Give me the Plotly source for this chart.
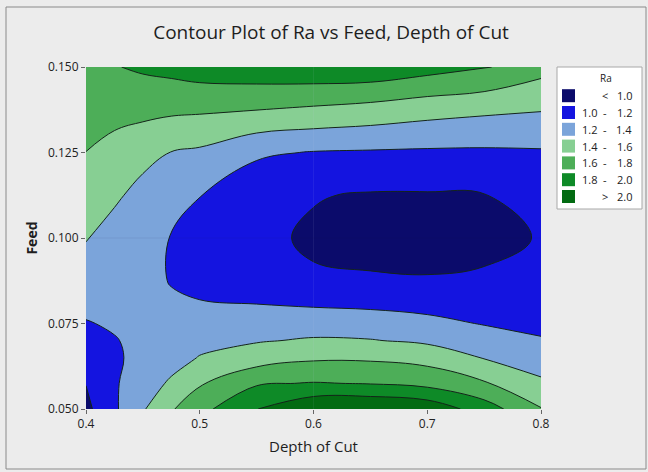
import plotly.graph_objects as go

# Grid of the fitted surface: Depth of Cut (x) by Feed (y)
depth = [0.40, 0.425, 0.45, 0.475, 0.50, 0.55, 0.60, 0.65, 0.70, 0.75, 0.80]
feed = [0.050, 0.0575, 0.065, 0.070, 0.075, 0.0875, 0.100, 0.1125, 0.125, 0.1375, 0.150]

# Ra values, one row per feed level (bottom to top)
ra = [
    [0.95, 1.17, 1.38, 1.58, 1.74, 1.995, 2.18, 2.20, 2.14, 1.90, 1.61],
    [1.005, 1.18, 1.30, 1.43, 1.58, 1.78, 1.81, 1.79, 1.74, 1.62, 1.43],
    [1.08, 1.18, 1.24, 1.32, 1.41, 1.50, 1.57, 1.57, 1.53, 1.39, 1.31],
    [1.13, 1.19, 1.245, 1.275, 1.34, 1.385, 1.42, 1.41, 1.365, 1.29, 1.22],
    [1.19, 1.22, 1.25, 1.26, 1.30, 1.30, 1.31, 1.29, 1.25, 1.19, 1.14],
    [1.30, 1.28, 1.26, 1.19, 1.12, 1.08, 1.02, 1.015, 1.01, 1.025, 1.07],
    [1.41, 1.30, 1.29, 1.19, 1.12, 1.04, 0.975, 0.95, 0.94, 0.95, 1.01],
    [1.505, 1.44, 1.32, 1.286, 1.205, 1.07, 1.01, 0.985, 0.985, 0.995, 1.06],
    [1.598, 1.537, 1.478, 1.395, 1.368, 1.23, 1.19, 1.18, 1.172, 1.17, 1.18],
    [1.69, 1.66, 1.648, 1.636, 1.627, 1.603, 1.568, 1.528, 1.475, 1.438, 1.41],
    [1.76, 1.79, 1.83, 1.86, 1.90, 1.93, 1.95, 1.95, 1.88, 1.82, 1.67],
]

# Contour levels and band appearance
level_start = 1.0
level_end = 2.0
level_step = 0.2
band_labels = ["< 1.0", "1.0 - 1.2", "1.2 - 1.4", "1.4 - 1.6",
               "1.6 - 1.8", "1.8 - 2.0", "> 2.0"]
band_colors = ["#0b0b6b", "#1414e0", "#7ba4da", "#87cf93",
               "#4dae58", "#0e8a27", "#036b12"]

x_ticks = [0.4, 0.5, 0.6, 0.7, 0.8]
x_ticktext = ["0.4", "0.5", "0.6", "0.7", "0.8"]
y_ticks = [0.050, 0.075, 0.100, 0.125, 0.150]
y_ticktext = ["0.050", "0.075", "0.100", "0.125", "0.150"]

FONT = "Open Sans"
W, H = 648, 472
L, R, T, B = 86, 541, 67, 409   # plot area edges in pixels


def px2x(px):
    return (px - L) / (R - L)


def px2y(py):
    return (B - py) / (B - T)


fig = go.Figure()

n = len(band_colors)
fig.add_trace(go.Contour(
    x=depth, y=feed, z=ra,
    contours=dict(start=level_start, end=level_end, size=level_step,
                  coloring="fill", showlines=True),
    line=dict(color="#14241a", width=1, smoothing=1.1),
    colorscale=[[i / (n - 1), c] for i, c in enumerate(band_colors)],
    showscale=False, hoverinfo="skip", showlegend=False,
))

shapes = [
    # outer frame
    dict(type="rect", xref="paper", yref="paper",
         x0=px2x(6), x1=px2x(646), y0=px2y(469), y1=px2y(7),
         line=dict(color="#8a8a8a", width=1), layer="below"),
    # faint reference lines through the plot
    dict(type="line", xref="x", yref="paper", x0=0.6, x1=0.6, y0=0, y1=1,
         line=dict(color="rgba(210,210,240,0.08)", width=1)),
    dict(type="line", xref="paper", yref="y", x0=0, x1=1, y0=0.1, y1=0.1,
         line=dict(color="rgba(40,40,90,0.08)", width=1)),
    # legend box
    dict(type="rect", xref="paper", yref="paper",
         x0=px2x(557), x1=px2x(642), y0=px2y(209), y1=px2y(67),
         fillcolor="#ffffff", line=dict(color="#a8a8a8", width=1)),
]
annotations = [
    dict(text="Ra", xref="paper", yref="paper", x=px2x(606), y=px2y(78),
         xanchor="center", yanchor="middle", showarrow=False,
         font=dict(size=10, family=FONT, color="#222222")),
]

# Legend rows: swatch, lower bound / symbol, upper bound
row0, row_gap = 95.7, 16.8
for i, (lab, col) in enumerate(zip(band_labels, band_colors)):
    cy = row0 + i * row_gap
    shapes.append(dict(type="rect", xref="paper", yref="paper",
                       x0=px2x(562), x1=px2x(575),
                       y0=px2y(cy + 6.5), y1=px2y(cy - 6.5),
                       fillcolor=col, line=dict(width=0)))
    parts = lab.split(" ")
    tf = dict(size=11, family=FONT, color="#222222")
    if len(parts) == 3:
        annotations.append(dict(text=parts[0], xref="paper", yref="paper",
                                x=px2x(580), y=px2y(cy), xanchor="left",
                                yanchor="middle", showarrow=False, font=tf))
        sym, hi = parts[1], parts[2]
    else:
        sym, hi = parts[0], parts[1]
    annotations.append(dict(text=sym, xref="paper", yref="paper",
                            x=px2x(605), y=px2y(cy), xanchor="center",
                            yanchor="middle", showarrow=False, font=tf))
    annotations.append(dict(text=hi, xref="paper", yref="paper",
                            x=px2x(634), y=px2y(cy), xanchor="right",
                            yanchor="middle", showarrow=False, font=tf))

fig.update_layout(
    width=W, height=H, autosize=False,
    margin=dict(l=L, r=W - R, t=T, b=H - B),
    paper_bgcolor="#ececec", plot_bgcolor="#ececec",
    font=dict(family=FONT, color="#222222"),
    showlegend=False,
    title=dict(text="Contour Plot of Ra vs Feed, Depth of Cut",
               x=331 / W, xref="container", xanchor="center",
               y=1 - 32 / H, yref="container", yanchor="middle",
               font=dict(size=19, family=FONT, color="#1e1e1e")),
    xaxis=dict(range=[0.4, 0.8], tickvals=x_ticks, ticktext=x_ticktext,
               showgrid=False, zeroline=False, ticks="outside", ticklen=4,
               tickcolor="#666666", tickfont=dict(size=12, color="#222222"),
               title=dict(text="Depth of Cut", standoff=10,
                          font=dict(size=15, color="#1e1e1e"))),
    yaxis=dict(range=[0.05, 0.15], tickvals=y_ticks, ticktext=y_ticktext,
               showgrid=False, zeroline=False, ticks="outside", ticklen=4,
               tickcolor="#666666", tickfont=dict(size=12, color="#222222"),
               title=dict(text="<b>Feed</b>", standoff=7,
                          font=dict(size=14, color="#1e1e1e"))),
    shapes=shapes,
    annotations=annotations,
)

fig.write_html("out.html")
